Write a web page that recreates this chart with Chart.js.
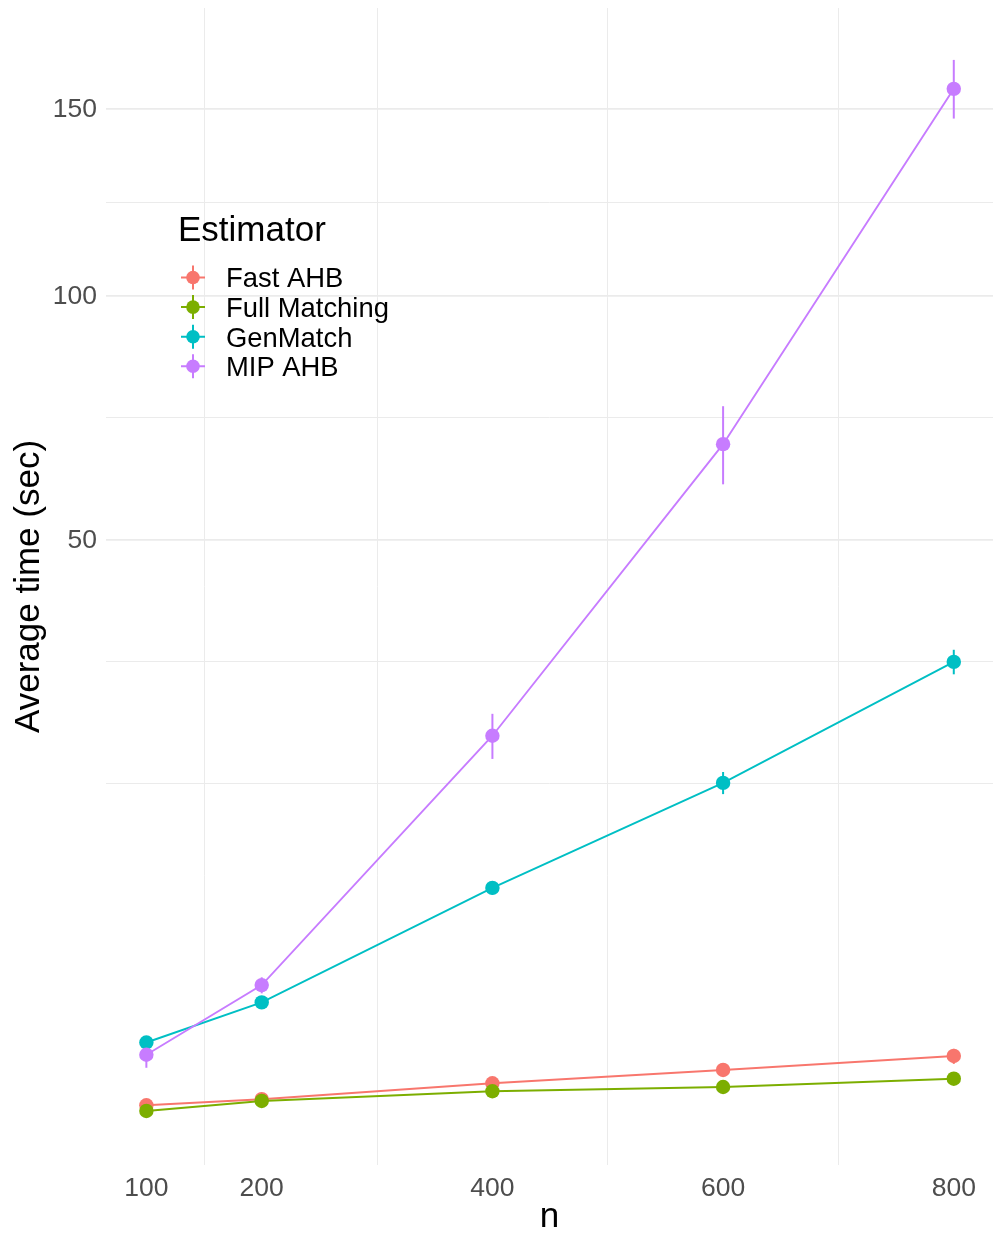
<!DOCTYPE html>
<html>
<head>
<meta charset="utf-8">
<script src="https://cdn.jsdelivr.net/npm/chart.js@4.4.1/dist/chart.umd.min.js"></script>
<style>
    html, body { margin: 0; padding: 0; background: #ffffff; }
    #wrap { position: relative; width: 993px; height: 1238px; }
</style>
</head>
<body>
<div id="wrap"><canvas id="timeChart"></canvas></div>
<script>
const nValues = [100, 200, 400, 600, 800];
const estimators = ['Fast AHB', 'Full Matching', 'GenMatch', 'MIP AHB'];
const colors = ['#F8766D', '#7CAE00', '#00BFC4', '#C77CFF'];

// mean time (sec) and standard error, one per n
const fastAhbTime = [0.073, 0.118, 0.286, 0.483, 0.745];
const fastAhbSe = [0.01, 0.01, 0.02, 0.03, 0.155];
const fullMatchingTime = [0.041, 0.104, 0.193, 0.240, 0.348];
const fullMatchingSe = [0.005, 0.005, 0.01, 0.01, 0.02];
const genMatchTime = [1.05, 2.27, 8.31, 17.18, 31.35];
const genMatchSe = [0.05, 0.08, 0.45, 1.1, 1.65];
const mipAhbTime = [0.77, 2.94, 22.2, 67.5, 155.9];
const mipAhbSe = [0.25, 0.33, 2.55, 7.7, 8.8];

const xTicks = [100, 200, 400, 600, 800];
const xMinorTicks = [150, 300, 500, 700];
const yTicks = [50, 100, 150];

document.addEventListener('DOMContentLoaded', () => {

    const tr = v => v < 0 ? -Math.sqrt(-v) : Math.sqrt(v);
    const untr = t => t < 0 ? -t * t : t * t;

    // square-root axis, like scale_y_sqrt
    class SqrtScale extends Chart.LinearScale {
        static id = 'sqrt';
        configure() {
            super.configure();
            this._tMin = tr(this.min);
            this._tMax = tr(this.max);
        }
        getPixelForValue(value) {
            return this.getPixelForDecimal((tr(value) - this._tMin) / (this._tMax - this._tMin));
        }
        getValueForPixel(pixel) {
            return untr(this._tMin + this.getDecimalForPixel(pixel) * (this._tMax - this._tMin));
        }
    }
    Chart.register(SqrtScale);

    // minor breaks halfway between majors in sqrt space (one step extended below)
    const tMajor = yTicks.map(tr);
    const step = tMajor[1] - tMajor[0];
    const tAll = [tMajor[0] - step, ...tMajor];
    const yGrid = [...yTicks];
    for (let i = 0; i < tAll.length - 1; i++) {
        yGrid.push(untr(tAll[i] + (tAll[i + 1] - tAll[i]) / 2));
    }
    yGrid.push(untr(tAll[0]));
    yGrid.sort((a, b) => a - b);

    const series = [
        { mean: fastAhbTime, se: fastAhbSe },
        { mean: fullMatchingTime, se: fullMatchingSe },
        { mean: genMatchTime, se: genMatchSe },
        { mean: mipAhbTime, se: mipAhbSe }
    ];

    const datasets = series.map((s, i) => ({
        label: estimators[i],
        data: nValues.map((n, j) => ({ x: n, y: s.mean[j] })),
        borderColor: colors[i],
        backgroundColor: colors[i],
        borderWidth: 1.9,
        pointRadius: 7.2,
        pointHoverRadius: 7.2,
        pointBorderWidth: 0,
        tension: 0,
        order: estimators.length - i
    }));

    const errorBars = {
        id: 'errorBars',
        beforeDatasetsDraw(chart) {
            const { ctx, scales: { x, y } } = chart;
            ctx.save();
            ctx.lineWidth = 2;
            series.forEach((s, i) => {
                ctx.strokeStyle = colors[i];
                nValues.forEach((n, j) => {
                    const px = x.getPixelForValue(n);
                    ctx.beginPath();
                    ctx.moveTo(px, y.getPixelForValue(s.mean[j] - s.se[j]));
                    ctx.lineTo(px, y.getPixelForValue(s.mean[j] + s.se[j]));
                    ctx.stroke();
                });
            });
            ctx.restore();
        }
    };

    const insideLegend = {
        id: 'insideLegend',
        afterDraw(chart) {
            const ctx = chart.ctx;
            ctx.save();
            ctx.fillStyle = '#000000';
            ctx.textAlign = 'left';
            ctx.textBaseline = 'alphabetic';
            ctx.font = '35px "Liberation Sans", Arial, sans-serif';
            ctx.fillText('Estimator', 178, 241);
            ctx.font = '27.4px "Liberation Sans", Arial, sans-serif';
            estimators.forEach((name, i) => {
                const cy = 277.5 + i * 29.6;
                const cx = 193;
                ctx.strokeStyle = colors[i];
                ctx.lineWidth = 2;
                ctx.beginPath();
                ctx.moveTo(cx - 12, cy); ctx.lineTo(cx + 12, cy);
                ctx.moveTo(cx, cy - 12); ctx.lineTo(cx, cy + 12);
                ctx.stroke();
                ctx.fillStyle = colors[i];
                ctx.beginPath();
                ctx.arc(cx, cy, 6.8, 0, Math.PI * 2);
                ctx.fill();
                ctx.fillStyle = '#000000';
                ctx.fillText(name, 226, cy + 9.8);
            });
            ctx.restore();
        }
    };

    const font = '"Liberation Sans", Arial, sans-serif';

    new Chart(document.getElementById('timeChart'), {
        type: 'line',
        data: { datasets },
        plugins: [errorBars, insideLegend],
        options: {
            responsive: true,
            maintainAspectRatio: false,
            animation: false,
            layout: { autoPadding: false, padding: { top: 8, right: 0, left: 0, bottom: 0 } },
            plugins: {
                legend: { display: false },
                tooltip: { enabled: false }
            },
            scales: {
                x: {
                    type: 'linear',
                    min: 65,
                    max: 834,
                    border: { display: false },
                    grid: {
                        drawTicks: false,
                        lineWidth: 1,
                        color: c => xMinorTicks.includes(c.tick.value) ? '#EBEBEB' : 'rgba(0,0,0,0)'
                    },
                    afterBuildTicks: scale => {
                        scale.ticks = [...xTicks, ...xMinorTicks].sort((a, b) => a - b).map(v => ({ value: v }));
                    },
                    afterFit: scale => {
                        scale.height = 73;
                        scale.paddingLeft = 0;
                        scale.paddingRight = 0;
                    },
                    ticks: {
                        autoSkip: false,
                        maxRotation: 0,
                        padding: 7.5,
                        color: '#4D4D4D',
                        font: { family: font, size: 26.5 },
                        callback: v => xTicks.includes(v) ? String(v) : ''
                    },
                    title: {
                        display: true,
                        text: 'n',
                        color: '#000000',
                        font: { family: font, size: 35 },
                        padding: { top: 0, bottom: 0 }
                    }
                },
                y: {
                    type: 'sqrt',
                    min: -0.2,
                    max: 181.1,
                    border: { display: false },
                    grid: {
                        drawTicks: false,
                        color: '#EBEBEB',
                        lineWidth: c => yTicks.includes(c.tick.value) ? 1.8 : 1
                    },
                    afterBuildTicks: scale => {
                        scale.ticks = yGrid.map(v => ({ value: v }));
                    },
                    afterFit: scale => {
                        scale.width = 106;
                        scale.paddingTop = 0;
                        scale.paddingBottom = 0;
                    },
                    ticks: {
                        autoSkip: false,
                        padding: 9,
                        labelOffset: 1.5,
                        color: '#4D4D4D',
                        font: { family: font, size: 26.5 },
                        callback: v => yTicks.includes(v) ? String(v) : ''
                    },
                    title: {
                        display: true,
                        text: 'Average time (sec)',
                        color: '#000000',
                        font: { family: font, size: 35 },
                        padding: { top: 8, bottom: 0 }
                    }
                }
            }
        }
    });
});
</script>
</body>
</html>
